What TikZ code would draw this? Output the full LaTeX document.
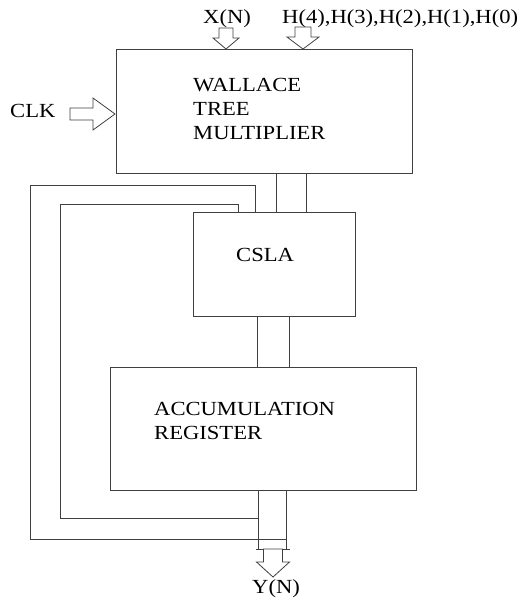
\documentclass[tikz,border=0pt]{standalone}
\usepackage{fontspec}
\setmainfont[FakeStretch=1.13]{Liberation Serif}
\usepackage{tikz}

\tikzset{
    block/.style={draw=black!75, line width=0.8pt, inner sep=0pt},
    wire/.style={draw=black!75, line width=0.8pt},
    lbl/.style={inner sep=0pt, font=\fontsize{20}{24}\selectfont},
    % hollow bus arrow, tip at origin: shaft half width / head half width / shaft length / head length
    pics/busarrow/.style n args={4}{code={
        \draw[wire, fill=white] (0,0) -- (-#4,#2) -- (-#4,#1) -- (-#4-#3,#1)
            -- (-#4-#3,-#1) -- (-#4,-#1) -- (-#4,-#2) -- cycle;
    }}
}

\begin{document}
\begin{tikzpicture}[x=1pt,y=-1pt]
    \useasboundingbox (0,0) rectangle (527,598);

    % blocks
    \node[block, minimum width=296pt, minimum height=124pt] (wtm) at (264,111) {};
    \node[block, minimum width=162pt, minimum height=104pt] (csla) at (274,264) {};
    \node[block, minimum width=306pt, minimum height=123pt] (acc) at (263,428.5) {};

    \node[lbl, anchor=north west, align=left] (wtmtext) at (193,78) {WALLACE\\TREE\\MULTIPLIER};
    \node[lbl, anchor=base west] (cslatext) at (236,261) {CSLA};
    \node[lbl, anchor=north west, align=left] (acctext) at (154,402) {ACCUMULATION\\REGISTER};

    % inputs
    \node[lbl, anchor=base west] (xn) at (203,23) {X(N)};
    \node[lbl, anchor=base west] (hn) at (282,23) {H(4),H(3),H(2),H(1),H(0)};
    \node[lbl, anchor=base west] (clk) at (10,117) {CLK};
    \pic[rotate=-90] at (226,49) {busarrow={7}{13}{10}{11}};
    \pic[rotate=-90] at (303,49) {busarrow={8}{16}{10}{12}};
    \pic at (115,114) {busarrow={6}{16}{23}{22}};

    % buses
    \foreach \bx in {276,306} {
        \draw[wire] (\bx,0 |- wtm.south) -- (\bx,0 |- csla.north);
    }
    \foreach \bx in {257,289} {
        \draw[wire] (\bx,0 |- csla.south) -- (\bx,0 |- acc.north);
    }
    \foreach \bx in {258,286} {
        \draw[wire] (\bx,0 |- acc.south) -- (\bx,549);
    }

    % feedback
    \draw[wire] (255,0 |- csla.north) -- (255,185) -- (30,185) -- (30,539) -- (287,539);
    \draw[wire] (238,0 |- csla.north) -- (238,204) -- (60,204) -- (60,518) -- (258,518);

    % output
    \draw[wire] (256,549) -- (263,549) (283,549) -- (290,549);
    \pic[rotate=-90] at (273,577) {busarrow={9.5}{16.5}{13}{15}};
    \node[lbl, anchor=base west] (yn) at (252,593) {Y(N)};
\end{tikzpicture}
\end{document}
